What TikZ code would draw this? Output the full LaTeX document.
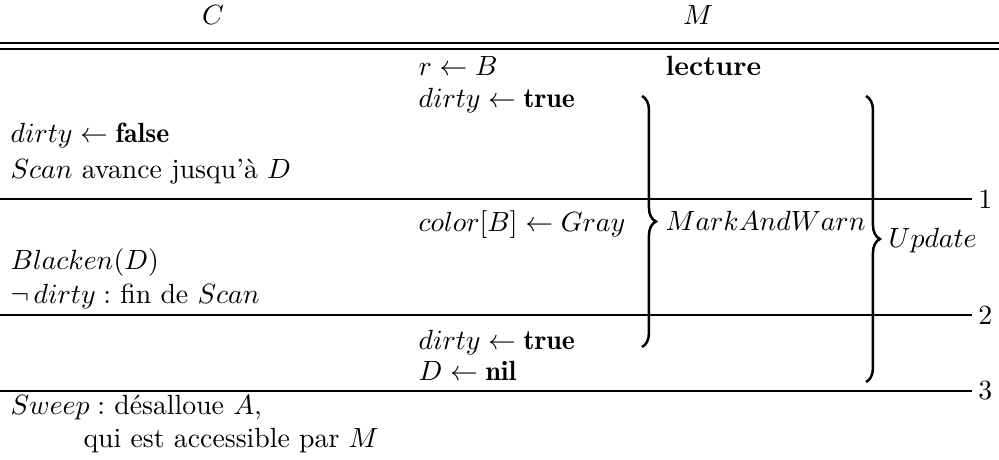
\documentclass[tikz,border=0pt]{standalone}
\usepackage{fontspec}
\usetikzlibrary{decorations.pathreplacing}

\begin{document}
\begin{tikzpicture}[x=0.36pt,y=-0.36pt]
    \tikzstyle{rule}=[line width=0.9pt]
    \tikzstyle{txt}=[anchor=base west,inner sep=0pt]
    \tikzstyle{head}=[anchor=base,inner sep=0pt]
    \tikzstyle{num}=[anchor=west,inner sep=0pt,xshift=1.8pt]
    \tikzstyle{bracket}=[line width=0.9pt,decorate,
        decoration={brace,amplitude=5pt,aspect=0.5}]
    \useasboundingbox (0,0) rectangle (999,460);
    % Headings and rules
    \node[head] (hc) at (213,25) {$C$};
    \node[head] (hm) at (698,25) {$M$};
    \coordinate (d1) at (0,43); \coordinate (d2) at (0,49);
    \draw[rule] (d1) -- (999,43); \draw[rule] (d2) -- (999,49);
    \coordinate (r1) at (0,199); \coordinate (e1) at (972,199);
    \coordinate (r2) at (0,315); \coordinate (e2) at (972,315);
    \coordinate (r3) at (0,391); \coordinate (e3) at (972,391);
    \draw[rule] (r1) -- (e1) node[num] (n1) {1};
    \draw[rule] (r2) -- (e2) node[num] (n2) {2};
    \draw[rule] (r3) -- (e3) node[num] (n3) {3};
    % Collector C
    \node[txt] (cfalse) at (10,143) {$dirty \leftarrow \mathbf{false}$};
    \node[txt] (cscan) at (10,179) {$Scan$ avance jusqu'à $D$};
    \node[txt] (cblack) at (10,270) {$Blacken(D)$};
    \node[txt] (cfin) at (10,304) {$\neg\,dirty:$ fin de $Scan$};
    \node[txt] (csweep) at (10,415) {$Sweep:$ désalloue $A$,};
    \node[txt] (cacc) at (83,448) {qui est accessible par $M$};
    % Mutator M
    \node[txt] (mread) at (418,76) {$r \leftarrow B$};
    \node[txt] (mlect) at (665,76) {\textbf{lecture}};
    \node[txt] (mtrue) at (418,108) {$dirty \leftarrow \mathbf{true}$};
    \node[txt] (mgray) at (418,232) {$color[B] \leftarrow Gray$};
    \node[txt] (mtrue2) at (418,350) {$dirty \leftarrow \mathbf{true}$};
    \node[txt] (mnil) at (418,381) {$D \leftarrow \mathbf{nil}$};
    % Braces
    \coordinate (mwtop) at (642,96); \coordinate (mwbot) at (642,347);
    \coordinate (uptop) at (866,96); \coordinate (upbot) at (866,382);
    \draw[bracket] (mwtop) -- (mwbot);
    \draw[bracket] (uptop) -- (upbot);
    \node[txt] (mark) at (665,231) {$MarkAndWarn$};
    \node[txt] (upd) at (888,248) {$Update$};
\end{tikzpicture}
\end{document}
